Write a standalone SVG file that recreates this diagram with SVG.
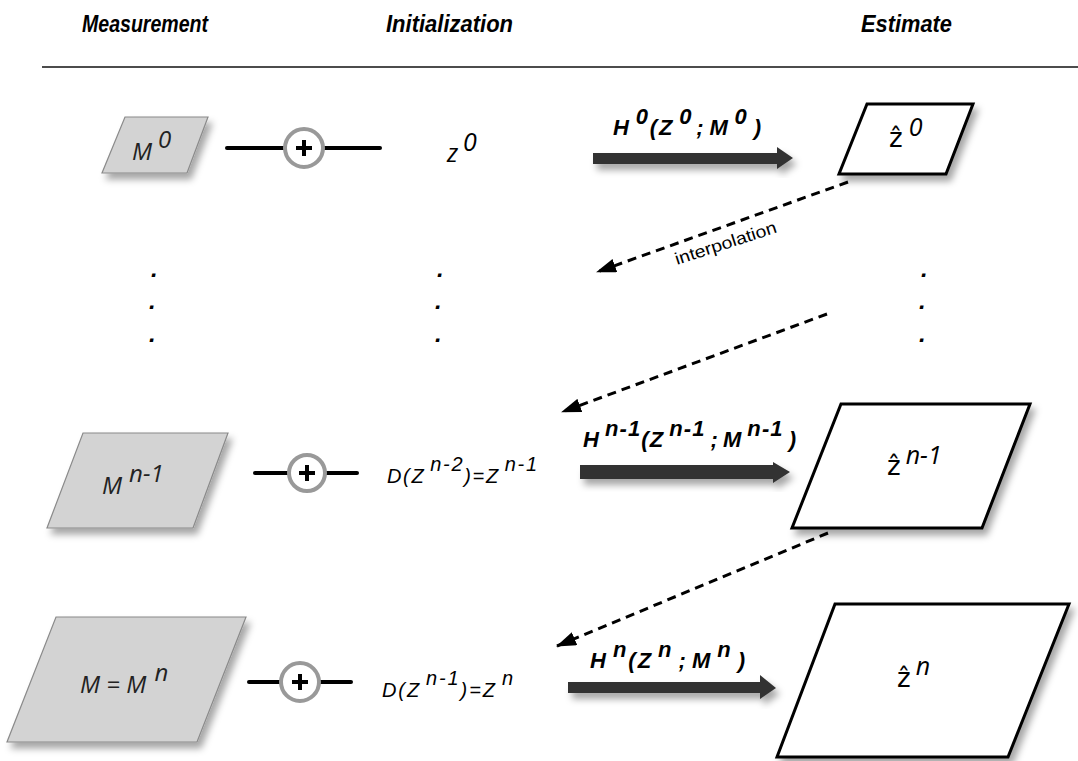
<svg xmlns="http://www.w3.org/2000/svg" width="1078" height="761" viewBox="0 0 1078 761">
<defs>
<filter id="sh" x="-20%" y="-20%" width="150%" height="160%">
<feDropShadow dx="4" dy="6" stdDeviation="3.5" flood-color="#000" flood-opacity="0.35"/>
</filter>
<marker id="ah" viewBox="0 0 20 14" refX="19" refY="7" markerWidth="20" markerHeight="14" markerUnits="userSpaceOnUse" orient="auto">
<path d="M0,0 L20,7 L0,14 Z" fill="#000"/>
</marker>
</defs>
<style>
.hdr{font-family:"Liberation Sans",Arial,sans-serif;font-weight:bold;font-style:italic;font-size:24px;fill:#000}
.meas{fill:#d3d3d3;stroke:#8a8a8a;stroke-width:1.2}
.est{fill:#fff;stroke:#000;stroke-width:3;stroke-linejoin:miter}
.mt{font-family:"Open Sans","DejaVu Sans",sans-serif;font-style:italic;font-size:24px;fill:#222}
.zt{font-family:"Open Sans","DejaVu Sans",sans-serif;font-style:italic;font-size:25px;fill:#000}
.zh{font-family:"DejaVu Sans",sans-serif;font-style:normal;font-size:26px}
.dt{font-family:"Liberation Sans",Arial,sans-serif;font-style:italic;font-size:20px;fill:#000}
.ht{font-family:"Liberation Sans",Arial,sans-serif;font-style:italic;font-weight:bold;font-size:22px;fill:#000}
.it{font-family:"Liberation Sans",Arial,sans-serif;font-size:17px;fill:#000}
.dot{font-family:"Liberation Sans",Arial,sans-serif;font-style:italic;font-weight:bold;font-size:24px;fill:#000}
.bar{stroke:#000;stroke-width:4;stroke-linecap:round}
.ring{fill:#fff;stroke:#999;stroke-width:4}
.plus{stroke:#000;stroke-width:4}
.big{fill:#333;filter:url(#sh)}
.dash{fill:none;stroke:#000;stroke-width:3;stroke-dasharray:9 6;marker-end:url(#ah)}
</style>

<g id="headers">
<text class="hdr" x="82" y="32" textLength="126" lengthAdjust="spacingAndGlyphs">Measurement</text>
<text class="hdr" x="386" y="32" textLength="127" lengthAdjust="spacingAndGlyphs">Initialization</text>
<text class="hdr" x="861" y="32" textLength="91" lengthAdjust="spacingAndGlyphs">Estimate</text>
<line x1="42" y1="67" x2="1078" y2="67" stroke="#111" stroke-width="1.5"/>
</g>

<!-- Row 0 -->
<g id="meas0">
<polygon class="meas" filter="url(#sh)" points="125,117 208,117 187,173 102,173"/>
<text class="mt" x="132" y="160">M<tspan dx="6" dy="-12">0</tspan></text>
</g>
<g id="plus0">
<line class="bar" x1="227" y1="148" x2="380" y2="148"/>
<circle class="ring" cx="304" cy="148" r="19"/>
<line class="plus" x1="296" y1="148" x2="312" y2="148"/>
<line class="plus" x1="304" y1="140" x2="304" y2="156"/>
</g>
<g id="init0">
<text class="zt" x="447" y="162">z<tspan dx="5" dy="-11">0</tspan></text>
</g>
<g id="op0">
<polygon class="big" points="593,153 777,153 777,147 793,158 777,169 777,164 593,164"/>
<text class="ht" x="613" y="135" textLength="148" lengthAdjust="spacing">H<tspan dx="5" dy="-11">0</tspan><tspan dy="11">(Z</tspan><tspan dx="5" dy="-11">0</tspan><tspan dx="3" dy="11">;</tspan><tspan dx="4">M</tspan><tspan dx="5" dy="-11">0</tspan><tspan dx="5" dy="11">)</tspan></text>
</g>
<g id="est0">
<polygon class="est" filter="url(#sh)" points="867,104 973,104 946,174 839,174"/>
<text class="zt" x="889" y="147"><tspan class="zh">ẑ</tspan><tspan dx="6" dy="-11">0</tspan></text>
</g>

<!-- dots -->
<g id="dots">
<text class="dot" x="151" y="277">.</text>
<text class="dot" x="149" y="309">.</text>
<text class="dot" x="149" y="342">.</text>
<text class="dot" x="437" y="277">.</text>
<text class="dot" x="435" y="309">.</text>
<text class="dot" x="435" y="342">.</text>
<text class="dot" x="921" y="277">.</text>
<text class="dot" x="919" y="309">.</text>
<text class="dot" x="919" y="342">.</text>
</g>

<!-- Row n-1 -->
<g id="measn1">
<polygon class="meas" filter="url(#sh)" points="83,433 228,433 193,528 47,528"/>
<text class="mt" x="102" y="494">M<tspan dx="7" dy="-12">n-1</tspan></text>
</g>
<g id="plusn1">
<line class="bar" x1="255" y1="473" x2="357" y2="473"/>
<circle class="ring" cx="307" cy="473" r="18"/>
<line class="plus" x1="299" y1="473" x2="315" y2="473"/>
<line class="plus" x1="307" y1="465" x2="307" y2="481"/>
</g>
<g id="initn1">
<text class="dt" x="387" y="483" textLength="150" lengthAdjust="spacing">D(Z<tspan dx="5" dy="-12">n-2</tspan><tspan dy="12">)=Z</tspan><tspan dx="5" dy="-12">n-1</tspan></text>
</g>
<g id="opn1">
<polygon class="big" points="580,465 773,465 773,462 790,472 773,483 773,479 580,479"/>
<text class="ht" x="583" y="447" textLength="213" lengthAdjust="spacing">H<tspan dx="5" dy="-11">n-1</tspan><tspan dy="11">(Z</tspan><tspan dx="5" dy="-11">n-1</tspan><tspan dx="5" dy="11">;</tspan><tspan dx="4">M</tspan><tspan dx="5" dy="-11">n-1</tspan><tspan dx="5" dy="11">)</tspan></text>
</g>
<g id="estn1">
<polygon class="est" filter="url(#sh)" points="841,404 1030,404 982,528 792,528"/>
<text class="zt" x="887" y="475"><tspan class="zh">ẑ</tspan><tspan dx="5" dy="-11">n-1</tspan></text>
</g>

<!-- Row n -->
<g id="measn">
<polygon class="meas" filter="url(#sh)" points="56,617 246,617 197,742 7,742"/>
<text class="mt" x="80" y="693">M = M<tspan dx="8" dy="-12">n</tspan></text>
</g>
<g id="plusn">
<line class="bar" x1="249" y1="682" x2="351" y2="682"/>
<circle class="ring" cx="300" cy="682" r="19"/>
<line class="plus" x1="292" y1="682" x2="308" y2="682"/>
<line class="plus" x1="300" y1="674" x2="300" y2="690"/>
</g>
<g id="initn">
<text class="dt" x="382" y="697" textLength="131" lengthAdjust="spacing">D(Z<tspan dx="5" dy="-12">n-1</tspan><tspan dy="12">)=Z</tspan><tspan dx="5" dy="-12">n</tspan></text>
</g>
<g id="opn">
<polygon class="big" points="568,682 760,682 760,675 776,688 760,699 760,693 568,693"/>
<text class="ht" x="590" y="668" textLength="155" lengthAdjust="spacing">H<tspan dx="5" dy="-11">n</tspan><tspan dy="11">(Z</tspan><tspan dx="5" dy="-11">n</tspan><tspan dx="5" dy="11">;</tspan><tspan dx="4">M</tspan><tspan dx="5" dy="-11">n</tspan><tspan dx="5" dy="11">)</tspan></text>
</g>
<g id="estn">
<polygon class="est" filter="url(#sh)" points="835,604 1069,604 1008,757 777,757"/>
<text class="zt" x="897" y="687"><tspan class="zh">ẑ</tspan><tspan dx="5" dy="-12">n</tspan></text>
</g>

<!-- connectors -->
<g id="connectors">
<line class="dash" x1="848" y1="182" x2="597" y2="272"/>
<line class="dash" x1="827" y1="314" x2="562" y2="412"/>
<line class="dash" x1="828" y1="533" x2="557" y2="646"/>
<text class="it" x="677" y="265" transform="rotate(-18 677 265)" textLength="106" lengthAdjust="spacingAndGlyphs">interpolation</text>
</g>
</svg>
